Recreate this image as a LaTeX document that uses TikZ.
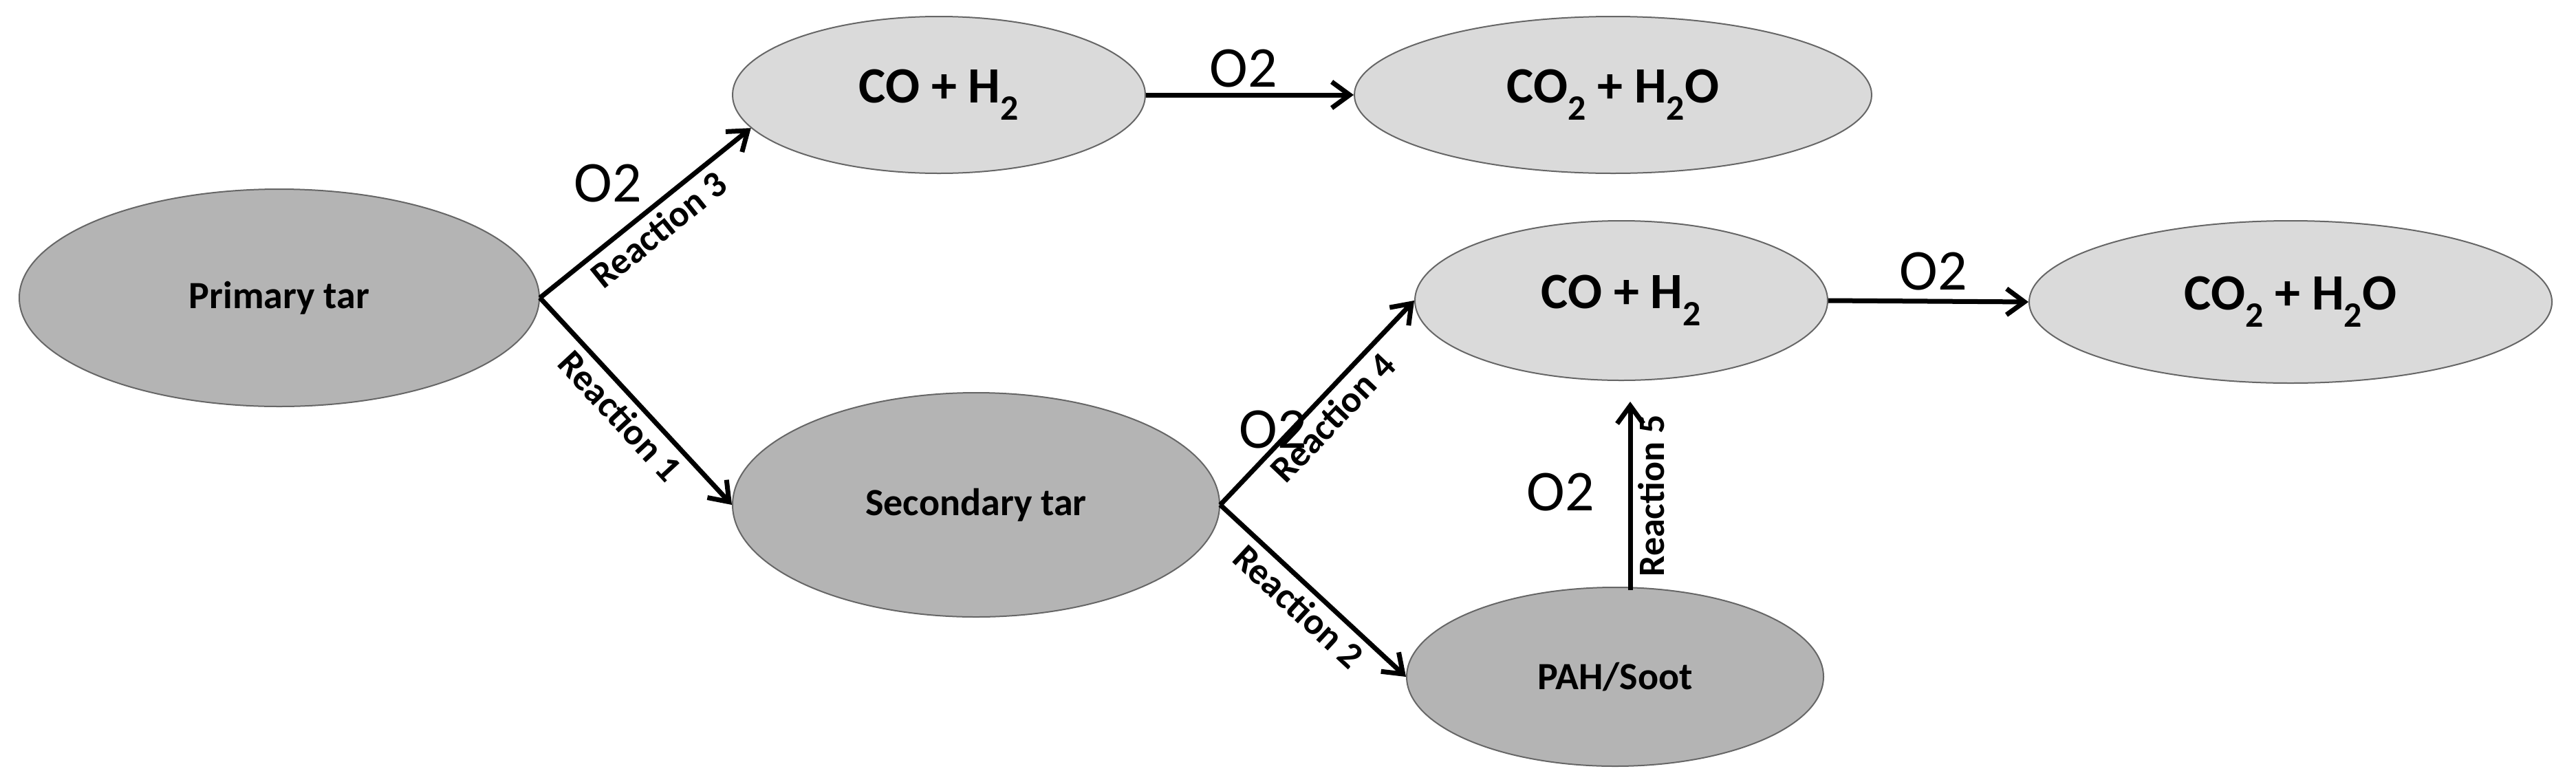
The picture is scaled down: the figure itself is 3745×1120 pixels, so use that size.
\documentclass[tikz,border=0pt]{standalone}
\usepackage{fontspec}
\setmainfont{Carlito}
\usetikzlibrary{shapes.geometric,arrows.meta}
\definecolor{lightg}{HTML}{DADADA}
\definecolor{darkg}{HTML}{B4B4B4}
\begin{document}
\begin{tikzpicture}[x=1pt,y=-1pt,
  ell/.style={ellipse,draw=black!60,line width=2pt,inner sep=0pt,font=\fontsize{74}{80}\selectfont\bfseries},
  lt/.style={ell,fill=lightg},
  dk/.style={ell,fill=darkg,font=\fontsize{56}{62}\selectfont\bfseries},
  arr/.style={line width=7pt,-{Straight Barb[length=26pt,width=38pt,line width=7pt]}},
  rl/.style={font=\fontsize{54}{60}\selectfont\bfseries,sloped,below,inner sep=8pt},
  ox/.style={font=\fontsize{84}{90}\selectfont}]
\useasboundingbox (0,0) rectangle (3745,1120);
\node[dk,minimum width=756pt,minimum height=316pt] (pt) at (406,433) {Primary tar};
\node[lt,minimum width=600pt,minimum height=228pt] (co1) at (1365,138) {CO + H\textsubscript{2}};
\node[lt,minimum width=752pt,minimum height=228pt] (cd1) at (2345,138) {CO\textsubscript{2} + H\textsubscript{2}O};
\node[dk,minimum width=708pt,minimum height=326pt] (st) at (1419,734) {Secondary tar};
\node[lt,minimum width=600pt,minimum height=232pt] (co2) at (2357,437) {CO + H\textsubscript{2}};
\node[lt,minimum width=760pt,minimum height=236pt] (cd2) at (3330,439) {CO\textsubscript{2} + H\textsubscript{2}O};
\node[dk,minimum width=606pt,minimum height=260pt] (ps) at (2348,984) {PAH/Soot};
\draw[arr] (pt.east) -- (co1.190) node[rl,midway] {Reaction 3};
\draw[arr] (pt.east) -- (st.west) node[rl,midway] {Reaction 1};
\draw[arr] (co1.east) -- (cd1.west);
\draw[arr] (st.east) -- (co2.west) node[rl,midway] {Reaction 4};
\draw[arr] (st.east) -- (ps.west) node[rl,midway] {Reaction 2};
\draw[arr] (co2.east) -- (cd2.west);
\coordinate (r5a) at (2370,858);
\coordinate (r5b) at (2370,584);
\draw[arr] (r5a) -- (r5b) node[rl,midway] {Reaction 5};
\node[ox] (o1) at (884,267) {O2};
\node[ox] (o2) at (1808,100) {O2};
\node[ox] (o3) at (1851,625) {O2};
\node[ox] (o4) at (2811,395) {O2};
\node[ox] (o5) at (2269,716) {O2};
\end{tikzpicture}
\end{document}
